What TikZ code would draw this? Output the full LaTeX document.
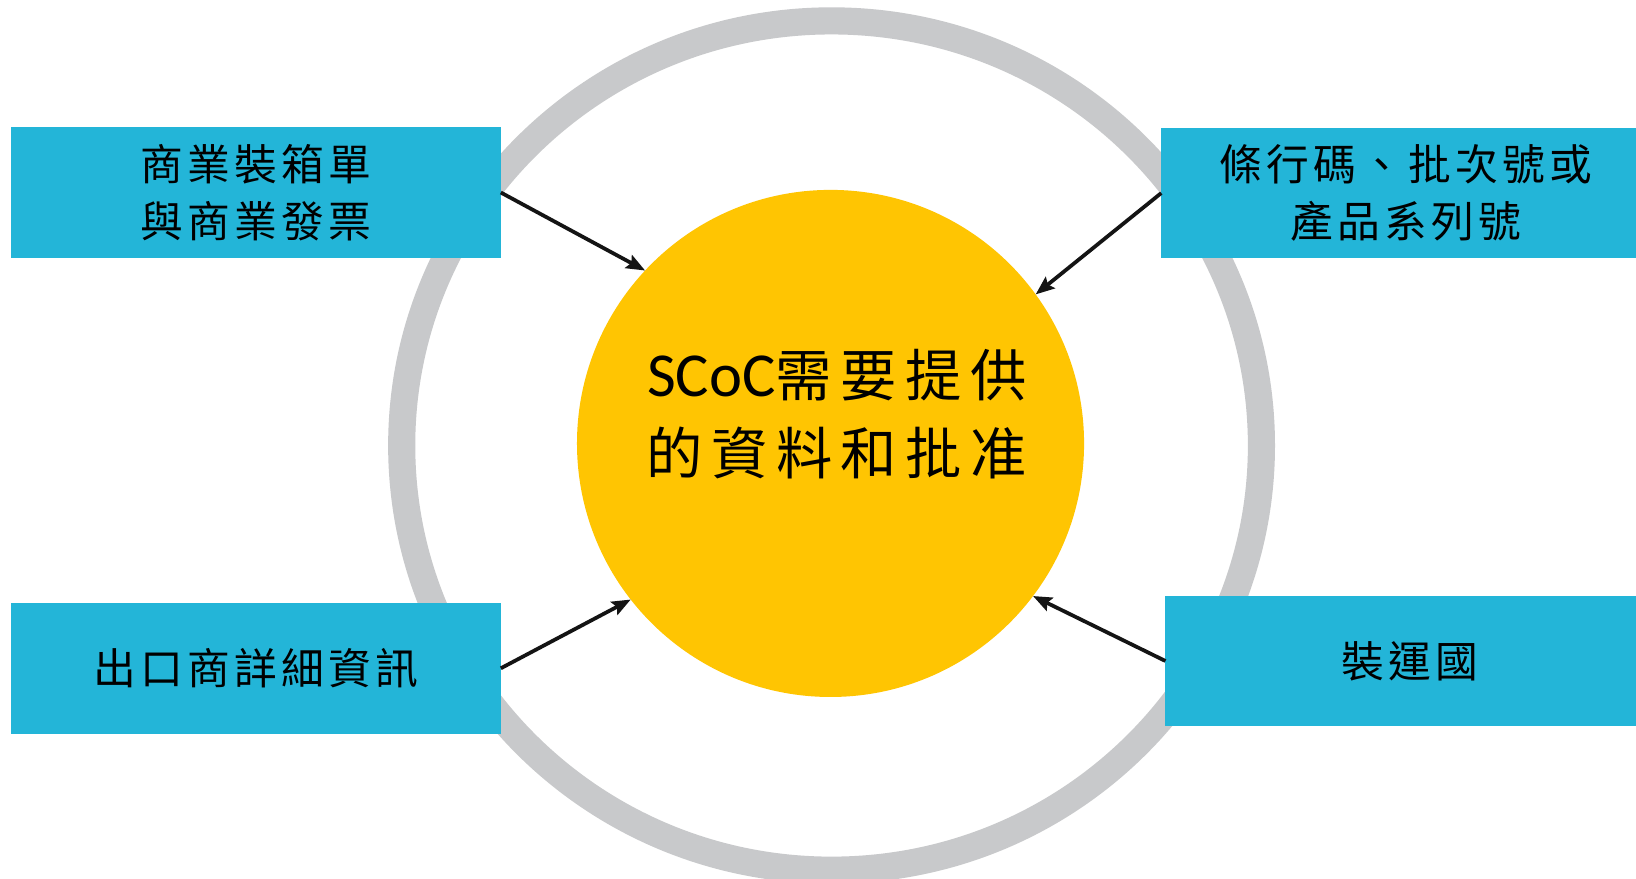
\documentclass[tikz,border=0pt]{standalone}
\usepackage{fontspec}
\setmainfont{Carlito}
\newfontfamily\cjk[LetterSpace=10]{Noto Sans CJK TC}
\newfontfamily\cjkc[LetterSpace=15]{Noto Sans CJK TC}
\usetikzlibrary{shapes.geometric,arrows.meta}
\definecolor{boxcyan}{HTML}{23B5D8}
\definecolor{sunyellow}{HTML}{FFC502}
\definecolor{ringgray}{HTML}{C8C9CB}
\definecolor{arrowink}{HTML}{141414}
\begin{document}
\begin{tikzpicture}[x=0.5pt,y=-0.5pt,
  infobox/.style={fill=boxcyan, minimum width=234.5pt, minimum height=62.5pt,
    inner sep=0pt, outer sep=0pt, align=center,
    font=\cjk\fontsize{20.5}{27.5}\selectfont},
  feed/.style={line width=1.8pt, draw=arrowink,
    -{Stealth[length=9pt,width=7pt,inset=1.5pt]}}]
\useasboundingbox (0,0) rectangle (1568,842);
\fill[white] (0,0) rectangle (1568,842);
\node[draw=ringgray, line width=13pt, ellipse, minimum width=412pt,
  minimum height=407pt, inner sep=0pt] (ring) at (797,427) {};
\node[infobox] (b1) at (245.5,184.5) {商業裝箱單\\與商業發票};
\node[infobox] (b2) at (1347.5,185) {條行碼、批次號或\\產品系列號};
\node[infobox] (b3) at (245.5,640.5) {出口商詳細資訊};
\node[infobox] (b4) at (1351.5,633.5) {裝運國};
\node[circle, fill=sunyellow, minimum size=243pt, inner sep=0pt, outer sep=0pt]
  (core) at (796,425) {};
\node[align=center, inner sep=0pt, font=\fontsize{30}{37.5}\selectfont]
  (coretext) at (802,397)
  {SCoC{\cjkc\fontsize{27}{37.5}\selectfont 需要提供}\\{\cjkc\fontsize{27}{37.5}\selectfont 的資料和批准}};
\draw[feed] (b1.east) -- (core.137);
\draw[feed] (b2.west) -- (core.36);
\draw[feed] (b3.east) -- (core.218);
\draw[feed] (b4.west) -- (core.-37);
\end{tikzpicture}
\end{document}
